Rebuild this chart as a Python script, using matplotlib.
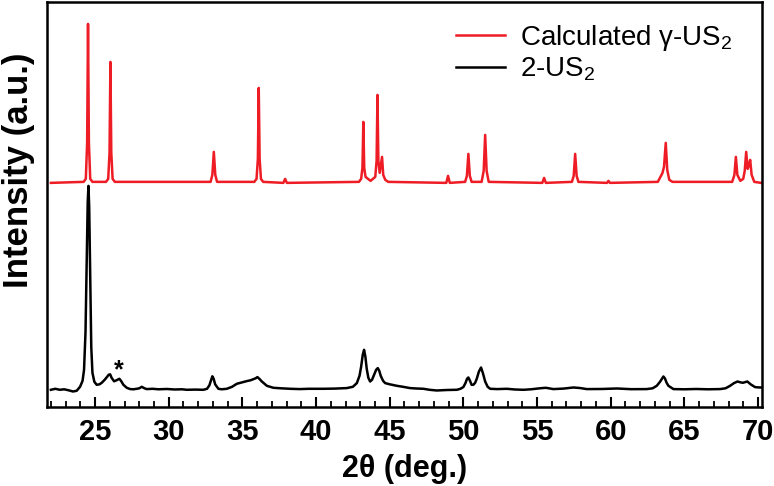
import matplotlib
matplotlib.use('Agg')
import matplotlib.pyplot as plt
from matplotlib.ticker import MultipleLocator

# calculated gamma-US2 pattern (arbitrary units)
calc_2theta = [22.0, 24.22, 24.37, 24.46, 24.52, 24.58, 24.67, 24.82,
               25.74, 25.89, 25.98, 26.04, 26.10, 26.19, 26.34,
               32.84, 32.96, 33.06, 33.16, 33.28,
               35.81, 35.96, 36.05, 36.11, 36.17, 36.26, 36.41,
               37.78, 37.90, 38.02,
               42.91, 43.06, 43.15, 43.21, 43.27, 43.36, 43.70,
               44.02, 44.11, 44.17, 44.23, 44.32, 44.48, 44.56, 44.70, 44.90,
               48.84, 48.96, 49.08,
               50.12, 50.24, 50.34, 50.44, 50.56,
               51.24, 51.38, 51.48, 51.58, 51.72,
               55.36, 55.48, 55.60,
               57.37, 57.49, 57.59, 57.69, 57.81,
               59.75, 59.85, 59.95,
               63.20, 63.45, 63.52, 63.62, 63.74, 63.84, 63.98, 64.20,
               68.25, 68.40, 68.50, 68.60, 68.80, 69.00, 69.10, 69.20,
               69.30, 69.35, 69.47, 69.57, 69.75, 70.2]
calc_intensity = [224, 225, 228, 264, 383, 264, 228, 225,
                  225, 228, 254, 345, 254, 228, 225,
                  225, 232, 255, 232, 225,
                  225, 228, 248, 319, 248, 228, 225,
                  224, 228, 224,
                  225, 228, 239, 285, 239, 230, 226,
                  230, 246, 312, 246, 234, 250, 232, 227, 225,
                  224, 231, 224,
                  225, 231, 253, 231, 225,
                  225, 236, 272, 236, 225,
                  224, 229, 224,
                  225, 231, 253, 231, 225,
                  224, 226, 224,
                  225, 232, 234, 240, 264, 237, 227, 225,
                  225, 232, 250, 232, 226, 228, 236, 255,
                  238, 240, 247, 232, 225, 224]

# measured 2-US2 pattern
meas_2theta = [22.0, 22.3, 22.6, 22.9, 23.2, 23.5, 23.75, 23.98, 24.15, 24.25,
               24.35, 24.44, 24.5, 24.55, 24.6, 24.66, 24.74, 24.82, 24.95, 25.11,
               25.3, 25.45, 25.65, 25.79, 25.92, 26.02, 26.12, 26.29, 26.45, 26.65,
               26.78, 26.92, 27.15, 27.38, 27.6, 27.83, 28.0, 28.17, 28.35, 28.51,
               28.9, 29.3, 29.87, 30.4, 30.9, 31.23, 31.8, 32.35, 32.6, 32.76,
               32.88, 32.96, 33.05, 33.15, 33.37, 33.6, 33.94, 34.3, 34.62, 35.0,
               35.3, 35.55, 35.75, 35.9, 36.02, 36.15, 36.32, 36.66, 37.1, 37.6,
               38.24, 38.9, 39.5, 40.5, 41.3, 42.09, 42.5, 42.77, 42.95, 43.06,
               43.17, 43.26, 43.35, 43.44, 43.55, 43.67, 43.8, 43.94, 44.08, 44.19,
               44.29, 44.39, 44.55, 44.69, 45.0, 45.48, 45.9, 46.38, 46.8, 47.29,
               47.7, 48.2, 48.9, 49.56, 49.8, 50.0, 50.15, 50.25, 50.34, 50.45,
               50.56, 50.68, 50.8, 50.91, 51.05, 51.2, 51.32, 51.48, 51.65, 51.82,
               52.3, 52.95, 53.5, 54.08, 54.6, 55.2, 55.6, 56.11, 56.8, 57.47,
               57.9, 58.38, 59.4, 60.42, 61.4, 62.45, 62.85, 63.13, 63.35, 63.5,
               63.58, 63.68, 63.8, 63.92, 64.26, 65.0, 65.8, 66.6, 67.43, 67.8,
               68.11, 68.35, 68.61, 68.8, 68.97, 69.1, 69.28, 69.5, 69.8, 70.0,
               70.2]
meas_intensity = [17, 18, 17, 17.5, 16.5, 15.3, 16, 20, 26, 37,
                  75, 150, 205, 221, 200, 140, 60, 34, 25, 22,
                  22.5, 24, 27, 29.5, 32, 32.5, 29, 25.5, 26.5, 28,
                  25.5, 22, 19, 17.7, 17.5, 18, 18.5, 20, 18.5, 17.7,
                  18, 17.5, 17.8, 17.3, 17.5, 17, 17.2, 17, 18, 21.5,
                  27, 30.5, 28, 22.5, 18, 17.5, 18, 20, 23, 24.5,
                  25.7, 26.5, 27.7, 28.5, 29.7, 28, 25.3, 21, 19, 18.5,
                  18, 17.7, 18, 18, 18.2, 18.7, 20, 23.7, 31, 40,
                  52, 57, 50, 38, 29, 25.3, 27, 32, 37, 38.7,
                  36, 31, 26, 23.7, 22.5, 21, 20, 18.7, 18.3, 18,
                  17, 16.3, 16.8, 17, 18, 19.7, 24, 28, 29.3, 26,
                  22, 22, 24, 28, 35, 39.3, 34, 25.3, 20, 18,
                  17.7, 18, 17.3, 17, 17.5, 18.5, 19, 17.7, 18.2, 19.3,
                  18.8, 17.7, 17.8, 18.3, 17.6, 17.7, 18.5, 21, 25, 28.5,
                  30.3, 28.5, 24, 21, 17.7, 17.5, 17.8, 17.5, 17.7, 18.5,
                  21, 23.5, 25.3, 24.5, 24, 24.5, 25.3, 22.5, 19.7, 19.4,
                  19.3]

labels = ['Calculated γ-US$_2$', '2-US$_2$']
x_range = (21.75, 70.3)

plt.rcParams['font.family'] = ['Liberation Sans', 'DejaVu Sans']
plt.rcParams['mathtext.fontset'] = 'custom'
plt.rcParams['mathtext.rm'] = 'Liberation Sans'

fig = plt.figure(figsize=(7.74, 4.86), dpi=100)
ax = fig.add_axes([0.061, 0.163, 0.924, 0.833])

ax.plot(calc_2theta, calc_intensity, color='#ee1c25', lw=1.8, label=labels[0])
ax.plot(meas_2theta, meas_intensity, color='black', lw=1.8, label=labels[1])
ax.text(26.63, 36, '*', ha='center', va='center', fontsize=18, fontweight='bold')

ax.set_xlim(*x_range)
ax.set_ylim(0, 405)
ax.set_yticks([])
ax.xaxis.set_major_locator(MultipleLocator(5))
ax.xaxis.set_minor_locator(MultipleLocator(1))
ax.tick_params(axis='x', which='major', direction='in', length=7, width=1.5,
               labelsize=21, pad=8)
ax.tick_params(axis='x', which='minor', direction='in', length=4, width=1.3)
for lbl in ax.get_xticklabels():
    lbl.set_fontweight('bold')
for s in ax.spines.values():
    s.set_linewidth(1.8)

ax.set_xlabel('2θ (deg.)', fontsize=22, fontweight='bold', labelpad=6)
ax.set_ylabel('Intensity (a.u.)', fontsize=25, fontweight='bold')
ax.yaxis.set_label_coords(-0.017, 0.585)

ax.legend(loc='upper right', frameon=False, fontsize=20, handlelength=1.75,
          handletextpad=0.55, labelspacing=0.1, borderaxespad=0.2,
          bbox_to_anchor=(0.982, 0.99))

fig.savefig('out.png', dpi=100)
